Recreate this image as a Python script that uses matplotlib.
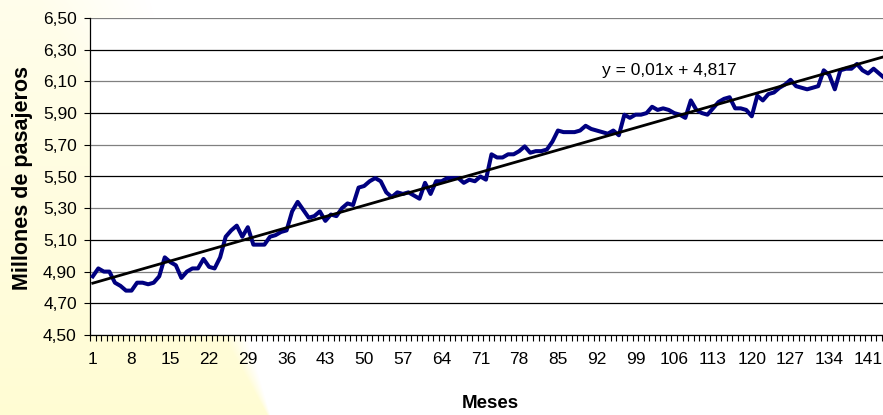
import numpy as np
import matplotlib.pyplot as plt

plt.rcParams["font.family"] = ["Liberation Sans", "DejaVu Sans"]

# pasajeros mensuales (millones)
meses = np.arange(1, 145)
pasajeros = [
    4.87, 4.92, 4.90, 4.90, 4.83, 4.81, 4.78, 4.78, 4.83, 4.83, 4.82, 4.83,
    4.87, 4.99, 4.96, 4.94, 4.86, 4.90, 4.92, 4.92, 4.98, 4.93, 4.92, 4.99,
    5.12, 5.16, 5.19, 5.12, 5.18, 5.07, 5.07, 5.07, 5.12, 5.13, 5.15, 5.16,
    5.28, 5.34, 5.29, 5.24, 5.25, 5.28, 5.22, 5.26, 5.25, 5.30, 5.33, 5.32,
    5.43, 5.44, 5.47, 5.49, 5.47, 5.40, 5.37, 5.40, 5.39, 5.40, 5.38, 5.36,
    5.46, 5.39, 5.47, 5.47, 5.49, 5.49, 5.49, 5.46, 5.48, 5.47, 5.50, 5.48,
    5.64, 5.62, 5.62, 5.64, 5.64, 5.66, 5.69, 5.65, 5.66, 5.66, 5.67, 5.72,
    5.79, 5.78, 5.78, 5.78, 5.79, 5.82, 5.80, 5.79, 5.78, 5.77, 5.79, 5.76,
    5.89, 5.87, 5.89, 5.89, 5.90, 5.94, 5.92, 5.93, 5.92, 5.90, 5.89, 5.87,
    5.98, 5.92, 5.90, 5.89, 5.93, 5.97, 5.99, 6.00, 5.93, 5.93, 5.92, 5.88,
    6.01, 5.98, 6.02, 6.03, 6.06, 6.08, 6.11, 6.07, 6.06, 6.05, 6.06, 6.07,
    6.17, 6.14, 6.05, 6.17, 6.18, 6.18, 6.21, 6.17, 6.15, 6.18, 6.15, 6.12,
]
pendiente = 0.01
intercepto = 4.817
etiquetas_x = list(range(1, 145, 7))
ticks_y = [4.50, 4.70, 4.90, 5.10, 5.30, 5.50, 5.70, 5.90, 6.10, 6.30, 6.50]

W, H = 883, 415
fig = plt.figure(figsize=(W / 100, H / 100), dpi=100)

# fondo amarillo de la diapositiva (zona izquierda)
bg = fig.add_axes([0, 0, 1, 1], zorder=-5)
yy, xx = np.mgrid[0:H, 0:W]
borde = 150 + (270 - 150) * yy / H
suave = 110 * (1 - yy / H) + 3
alpha = np.clip((borde - xx) / suave, 0, 1) * (0.45 + 0.55 * yy / H)
fondo = np.zeros((H, W, 4))
fondo[..., 0] = 1.0
fondo[..., 1] = 0.99
fondo[..., 2] = 0.83
fondo[..., 3] = alpha
bg.imshow(fondo, extent=[0, W, H, 0], aspect="auto", interpolation="bilinear")
bg.set_xlim(0, W)
bg.set_ylim(H, 0)
bg.axis("off")

ax = fig.add_axes([90 / W, 1 - 335 / H, (W - 90) / W, (335 - 18) / H])
ax.set_facecolor("white")

for i, v in enumerate(ticks_y):
    ax.axhline(v, color="#808080" if i % 2 == 0 else "black", lw=0.9, zorder=1)

ax.plot(meses, pasajeros, color="#000080", lw=2.9, zorder=3,
        solid_joinstyle="round")
ax.plot(meses, pendiente * meses + intercepto, color="black", lw=2.0, zorder=4)

ax.text(93, 6.17, "y = 0,01x + 4,817", fontsize=12.5, ha="left", va="center")

ax.set_xlim(0.5, 143.7)
ax.set_ylim(4.5, 6.5)
ax.set_yticks(ticks_y)
ax.set_yticklabels([f"{v:.2f}".replace(".", ",") for v in ticks_y])
ax.set_xticks(etiquetas_x)
ax.set_xticklabels([str(m) for m in etiquetas_x])
ax.set_xticks(np.arange(0.5, 144, 1), minor=True)
ax.tick_params(axis="x", which="major", length=0, pad=12, labelsize=12.5)
ax.tick_params(axis="x", which="minor", length=4, width=0.8, direction="out")
ax.tick_params(axis="y", length=4.5, width=0.8, pad=5, labelsize=12.5)

for s in ["top", "right"]:
    ax.spines[s].set_visible(False)
for s in ["left", "bottom"]:
    ax.spines[s].set_color("black")
    ax.spines[s].set_linewidth(0.9)

fig.text(23 / W, 1 - 178 / H, "Millones de pasajeros", rotation=90,
         fontsize=15.5, fontweight="bold", ha="center", va="center")
fig.text(490 / W, 1 - 403 / H, "Meses", fontsize=13.5, fontweight="bold",
         ha="center", va="center")

fig.savefig("out.png", dpi=100, facecolor="white")
